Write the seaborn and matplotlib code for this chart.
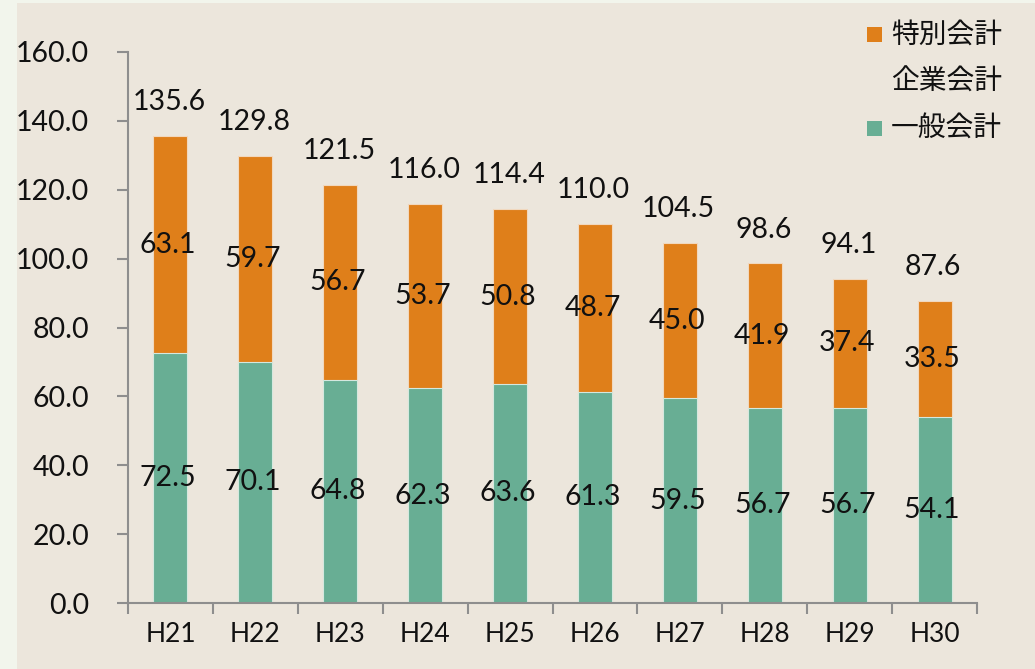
import numpy as np
import pandas as pd
import matplotlib
matplotlib.use('Agg')
import matplotlib.pyplot as plt
from matplotlib.patches import Rectangle
import seaborn as sns

# data
years = ['H21', 'H22', 'H23', 'H24', 'H25', 'H26', 'H27', 'H28', 'H29', 'H30']
general = [72.5, 70.1, 64.8, 62.3, 63.6, 61.3, 59.5, 56.7, 56.7, 54.1]      # 一般会計
enterprise = [0, 0, 0, 0, 0, 0, 0, 0, 0, 0]                                # 企業会計
special = [63.1, 59.7, 56.7, 53.7, 50.8, 48.7, 45.0, 41.9, 37.4, 33.5]      # 特別会計
totals = [135.6, 129.8, 121.5, 116.0, 114.4, 110.0, 104.5, 98.6, 94.1, 87.6]
series_names = ['一般会計', '企業会計', '特別会計']

sns.set_theme(style='white')
plt.rcParams['font.family'] = ['Lato', 'Noto Sans CJK JP', 'DejaVu Sans']

c_orange = '#DF7F1A'
c_green = '#68AE94'
panel = '#ECE6DC'
axis_c = '#8E8E8E'

df = pd.DataFrame({'year': years, 'general': general, 'special': special,
                   'top': np.array(general) + np.array(enterprise) + np.array(special)})

fig = plt.figure(figsize=(10.35, 6.69), dpi=100, facecolor='#F2F5EC')
# beige panel behind the chart
bg = fig.add_axes([17 / 1035, 0, 1, 1 - 3 / 669], zorder=-1)
bg.set_facecolor(panel)
bg.set_xticks([])
bg.set_yticks([])
for s in bg.spines.values():
    s.set_visible(False)

ax = fig.add_axes([128 / 1035, 1 - 603 / 669, (977 - 128) / 1035, (603 - 52) / 669])
ax.set_facecolor('none')

# stacked bars: full height in orange, lower part in green on top
sns.barplot(data=df, x='year', y='top', color=c_orange, width=0.4, saturation=1,
            edgecolor='#F1D8BE', linewidth=0.8, ax=ax)
sns.barplot(data=df, x='year', y='general', color=c_green, width=0.4, saturation=1,
            edgecolor='#D5E8DF', linewidth=0.8, ax=ax)

fs = 20.5
for i in range(len(years)):
    ax.text(i - 0.03, general[i] / 2, f'{general[i]:.1f}', ha='center', va='center', fontsize=fs, color='#111111')
    ax.text(i - 0.03, general[i] + enterprise[i] + special[i] / 2, f'{special[i]:.1f}',
            ha='center', va='center', fontsize=fs, color='#111111')
    ax.annotate(f'{totals[i]:.1f}', (i, totals[i]), xytext=(-1, 15), textcoords='offset points',
                ha='center', va='bottom', fontsize=fs, color='#111111')

ax.set_ylim(0, 160)
ax.set_xlim(-0.5, len(years) - 0.5)
ax.set_yticks(np.arange(0, 161, 20))
ax.set_yticklabels([f'{v:.1f}' for v in np.arange(0, 161, 20)], fontsize=fs, color='#111111')
ax.set_xticks(range(len(years)))
ax.set_xticklabels(years, fontsize=fs - 1.5, color='#111111')
ax.set_xticks(np.arange(-0.5, len(years)), minor=True)
ax.tick_params(axis='x', which='major', length=0, pad=14)
ax.tick_params(axis='x', which='minor', length=8, width=1.5, color=axis_c, direction='out', bottom=True)
ax.tick_params(axis='y', length=8, width=1.5, color=axis_c, direction='out', left=True, pad=20)
ax.set_xlabel('')
ax.set_ylabel('')
sns.despine(ax=ax, top=True, right=True)
for s in ['left', 'bottom']:
    ax.spines[s].set_color(axis_c)
    ax.spines[s].set_linewidth(1.5)

# legend (top to bottom: 特別会計, 企業会計, 一般会計)
leg_items = [(series_names[2], c_orange), (series_names[1], None), (series_names[0], c_green)]
for k, (name, col) in enumerate(leg_items):
    y = 1 - (35 + k * 47) / 669
    if col is not None:
        fig.patches.append(Rectangle((867 / 1035, y - 7 / 669), 15 / 1035, 15 / 669,
                                     transform=fig.transFigure, facecolor=col, edgecolor='none'))
    fig.text(891 / 1035, y, name, ha='left', va='center', fontsize=20, color='#111111')

fig.savefig('out.png', dpi=100, facecolor=fig.get_facecolor())
